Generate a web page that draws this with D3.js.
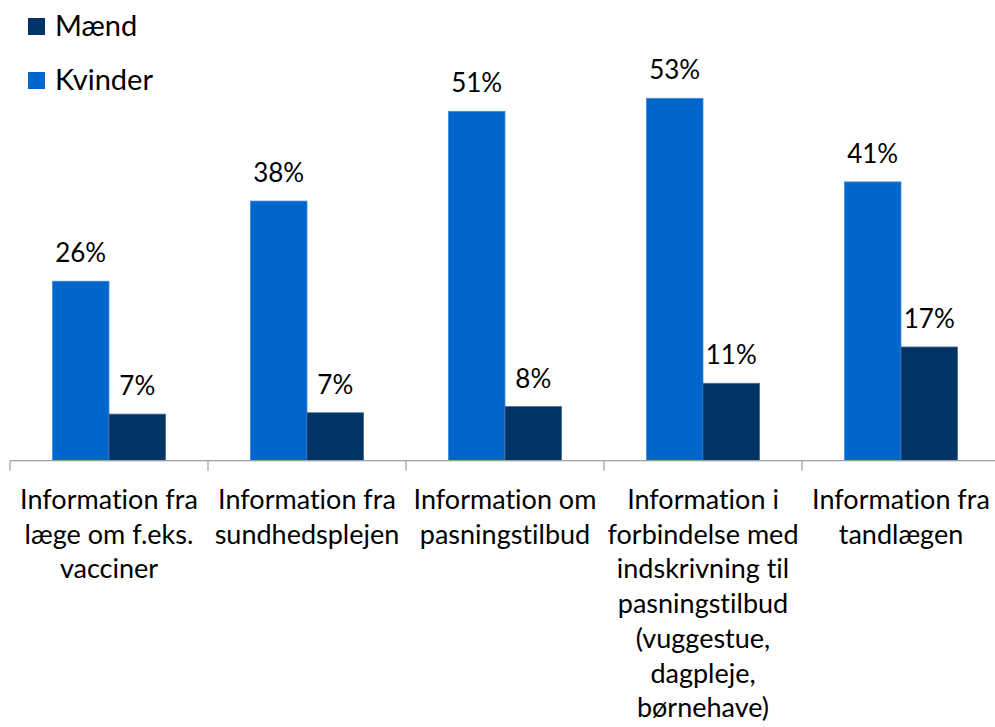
<!DOCTYPE html>
<html>
<head>
<meta charset="utf-8">
<script src="https://cdn.jsdelivr.net/npm/d3@7"></script>
<style>
  body { margin: 0; background: #fff; }
  svg { display: block; font-family: Lato, "Open Sans", sans-serif; font-variant-ligatures: none; }
</style>
</head>
<body>
<div id="chart"></div>
<script>
// Categories, with the line breaks used in the picture
const categories = [
    ["Information fra", "læge om f.eks.", "vacciner"],
    ["Information fra", "sundhedsplejen"],
    ["Information om", "pasningstilbud"],
    ["Information i", "forbindelse med", "indskrivning til", "pasningstilbud", "(vuggestue,", "dagpleje,", "børnehave)"],
    ["Information fra", "tandlægen"]
];
const series = ["Kvinder", "Mænd"];
const kvinder = [26.2, 37.9, 51.0, 52.9, 40.7];
const maend = [6.8, 7.0, 7.9, 11.3, 16.6];

const colors = { "Kvinder": "#0066cc", "Mænd": "#003366" };
const strokes = { "Kvinder": "#3d8ae0", "Mænd": "#4a6a8e" };

const W = 995, H = 727;
const svg = d3.select("#chart").append("svg")
    .attr("width", W)
    .attr("height", H);

const keys = categories.map((c, i) => i);

// x scales: outer band per category, inner band per series
const x0 = d3.scaleBand()
    .domain(keys)
    .range([10, 1000])
    .padding(0);

const x1 = d3.scaleBand()
    .domain(series)
    .range([0, x0.bandwidth()])
    .paddingOuter(0.75)
    .paddingInner(0);

const y = d3.scaleLinear()
    .domain([0, 60])
    .range([460.7, 49.7]);

const rows = keys.map(i => ({ i, Kvinder: kvinder[i], "Mænd": maend[i] }));

// Bars
const groups = svg.selectAll("g.cat")
    .data(rows)
    .join("g")
    .attr("class", "cat")
    .attr("transform", d => `translate(${x0(d.i)},0)`);

groups.selectAll("rect")
    .data(d => series.map(s => ({ s, v: d[s] })))
    .join("rect")
    .attr("x", d => x1(d.s))
    .attr("width", x1.bandwidth())
    .attr("y", d => y(d.v))
    .attr("height", d => y(0) - y(d.v))
    .attr("fill", d => colors[d.s])
    .attr("stroke", d => strokes[d.s])
    .attr("stroke-width", 0.8);

// Value labels
groups.selectAll("text.val")
    .data(d => series.map(s => ({ s, v: d[s] })))
    .join("text")
    .attr("class", "val")
    .attr("x", d => x1(d.s) + x1.bandwidth() / 2)
    .attr("y", d => y(d.v) - 19)
    .attr("text-anchor", "middle")
    .style("font-size", "26px")
    .style("fill", "#000")
    .text(d => Math.round(d.v) + "%");

// Axis line and ticks
const axis = svg.append("g");
axis.append("line")
    .attr("x1", 10).attr("x2", W)
    .attr("y1", y(0)).attr("y2", y(0))
    .attr("stroke", "#a0a0a0")
    .attr("stroke-width", 1.2);

axis.selectAll("line.tick")
    .data(keys.concat([keys.length]))
    .join("line")
    .attr("class", "tick")
    .attr("x1", d => d < keys.length ? x0(d) : x0.range()[1])
    .attr("x2", d => d < keys.length ? x0(d) : x0.range()[1])
    .attr("y1", y(0))
    .attr("y2", y(0) + 10)
    .attr("stroke", "#a0a0a0")
    .attr("stroke-width", 1.2);

// Category labels
const lab = svg.selectAll("text.cat")
    .data(categories)
    .join("text")
    .attr("class", "cat")
    .attr("text-anchor", "middle")
    .style("font-size", "27px")
    .style("fill", "#000");

lab.selectAll("tspan")
    .data((d, i) => d.map(line => ({ line, i })))
    .join("tspan")
    .attr("x", d => x0(d.i) + x0.bandwidth() / 2)
    .attr("y", (d, j) => 509 + j * 34.7)
    .text(d => d.line);

// Legend
const legendOrder = ["Mænd", "Kvinder"];
const legend = svg.append("g");
legendOrder.forEach((s, i) => {
    const row = legend.append("g")
        .attr("transform", `translate(28, ${18 + i * 54})`);
    row.append("rect")
        .attr("width", 17)
        .attr("height", 17)
        .attr("fill", colors[s]);
    row.append("text")
        .attr("x", 27)
        .attr("y", 18)
        .style("font-size", "29px")
        .style("fill", "#000")
        .text(s);
});
</script>
</body>
</html>
